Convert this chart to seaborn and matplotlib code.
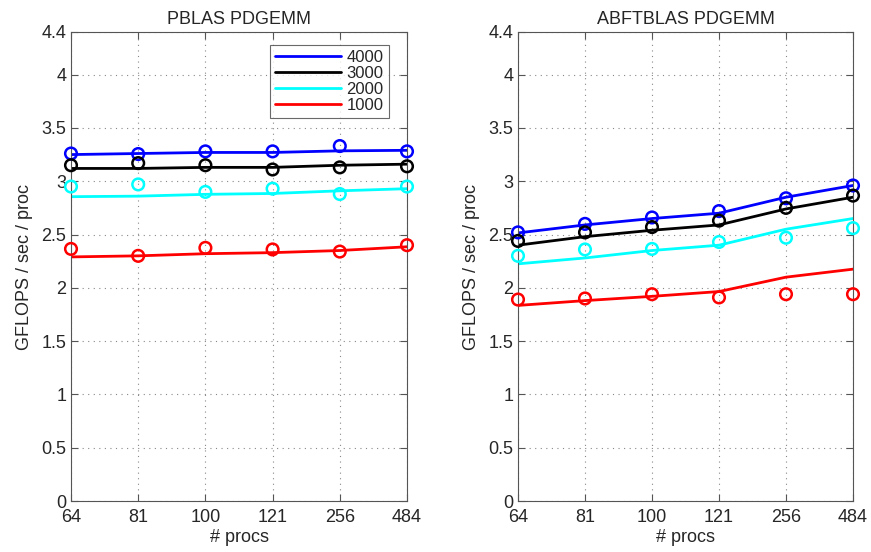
import numpy as np
import pandas as pd
import seaborn as sns
from matplotlib import pyplot as plt

procs = ['64', '81', '100', '121', '256', '484']
sizes = ['4000', '3000', '2000', '1000']
colors = {'4000': '#0000ff', '3000': '#000000', '2000': '#00ffff', '1000': '#ff0000'}

# PBLAS: model (line) and measured (circles)
pblas_model = {
    '4000': [3.25, 3.26, 3.27, 3.27, 3.285, 3.29],
    '3000': [3.12, 3.12, 3.13, 3.13, 3.15, 3.16],
    '2000': [2.855, 2.86, 2.877, 2.885, 2.91, 2.93],
    '1000': [2.29, 2.30, 2.32, 2.33, 2.35, 2.385],
}
pblas_meas = {
    '4000': [3.26, 3.255, 3.28, 3.28, 3.33, 3.28],
    '3000': [3.15, 3.17, 3.15, 3.11, 3.13, 3.14],
    '2000': [2.95, 2.97, 2.90, 2.93, 2.88, 2.95],
    '1000': [2.365, 2.30, 2.375, 2.36, 2.34, 2.40],
}
# ABFTBLAS
abft_model = {
    '4000': [2.515, 2.59, 2.65, 2.70, 2.85, 2.96],
    '3000': [2.40, 2.48, 2.54, 2.59, 2.74, 2.85],
    '2000': [2.225, 2.28, 2.35, 2.40, 2.55, 2.65],
    '1000': [1.835, 1.88, 1.92, 1.965, 2.10, 2.175],
}
abft_meas = {
    '4000': [2.52, 2.60, 2.66, 2.72, 2.84, 2.96],
    '3000': [2.44, 2.52, 2.57, 2.63, 2.75, 2.865],
    '2000': [2.30, 2.36, 2.365, 2.43, 2.47, 2.56],
    '1000': [1.89, 1.90, 1.94, 1.91, 1.94, 1.94],
}


def to_frame(d):
    rows = []
    for s in sizes:
        for i, v in enumerate(d[s]):
            rows.append({'pos': i, 'size': s, 'gflops': v})
    return pd.DataFrame(rows)


sns.set_style('ticks')
plt.rcParams['font.family'] = ['Liberation Sans', 'DejaVu Sans']

fig = plt.figure(figsize=(8.71, 5.52), dpi=100)
W, H = 871, 552
ax1 = fig.add_axes([71 / W, 1 - 501 / H, (407 - 71) / W, (501 - 32) / H])
ax2 = fig.add_axes([518 / W, 1 - 501 / H, (853 - 518) / W, (501 - 32) / H])

panels = [
    (ax1, pblas_model, pblas_meas, 'PBLAS PDGEMM'),
    (ax2, abft_model, abft_meas, 'ABFTBLAS PDGEMM'),
]

for ax, model, meas, title in panels:
    sns.lineplot(data=to_frame(model), x='pos', y='gflops', hue='size',
                 hue_order=sizes, palette=colors, linewidth=2, ax=ax,
                 legend=(ax is ax1))
    dm = to_frame(meas)
    for s in sizes:
        sub = dm[dm['size'] == s]
        sns.scatterplot(x=sub['pos'], y=sub['gflops'], marker='o',
                        facecolor='none', edgecolor=colors[s], linewidth=1.8,
                        s=70, ax=ax, legend=False, clip_on=False, zorder=3)
    ax.set_xlim(0, 5)
    ax.set_ylim(0, 4.4)
    ax.set_xticks(range(len(procs)))
    ax.set_xticklabels(procs)
    ax.set_yticks([0, 0.5, 1, 1.5, 2, 2.5, 3, 3.5, 4, 4.4])
    ax.set_yticklabels(['0', '0.5', '1', '1.5', '2', '2.5', '3', '3.5', '4', '4.4'])
    ax.grid(True, linestyle=(0, (1, 4)), color='#888888', linewidth=0.8)
    ax.tick_params(direction='in', top=True, right=True, labelsize=13,
                   length=5, color='#555555')
    ax.tick_params(axis='x', pad=6)
    for sp in ax.spines.values():
        sp.set_visible(True)
        sp.set_color('#555555')
    ax.set_xlabel('# procs', fontsize=13, labelpad=2)
    ax.set_ylabel('GFLOPS / sec / proc', fontsize=13, labelpad=6)
    ax.set_title(title, fontsize=13)

leg = ax1.legend(loc='upper right', fontsize=12, frameon=True, fancybox=False,
                 edgecolor='#444444', handlelength=4, borderpad=0.3,
                 labelspacing=0.05, handletextpad=0.3, title=None,
                 bbox_to_anchor=(0.97, 0.99))
leg.get_frame().set_linewidth(0.8)

fig.savefig('out.png', dpi=100)
